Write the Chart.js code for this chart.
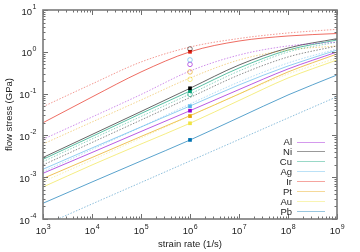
<!DOCTYPE html>
<html><head><meta charset="utf-8">
<script src="https://cdn.jsdelivr.net/npm/chart.js@4/dist/chart.umd.min.js"></script>
<style>html,body{margin:0;padding:0;background:#fff}canvas{display:block}</style>
</head><body>
<canvas id="c" width="360" height="252"></canvas>
<script>
// strain rates (1/s)
const rates = [1e3, 1e4, 1e5, 1e6, 1e7, 1e8, 1e9];
const metals = ['Al', 'Ni', 'Cu', 'Ag', 'Ir', 'Pt', 'Au', 'Pb'];

// flow stress (GPa), solid curves
const solidAl = [0.00124, 0.00390, 0.0124, 0.0390, 0.125, 0.388, 0.989];
const solidNi = [0.00296, 0.0105, 0.0373, 0.134, 0.483, 1.23, 2.06];
const solidCu = [0.00268, 0.00942, 0.0334, 0.115, 0.409, 1.10, 1.92];
const solidAg = [0.00155, 0.00500, 0.0159, 0.0505, 0.161, 0.457, 1.10];
const solidIr = [0.0201, 0.0830, 0.329, 1.00, 1.81, 2.39, 2.74];
const solidPt = [0.000931, 0.00296, 0.00942, 0.0296, 0.0977, 0.329, 0.886];
const solidAu = [0.000583, 0.00196, 0.00622, 0.0195, 0.0684, 0.236, 0.637];
const solidPb = [0.000238, 0.000767, 0.00244, 0.00776, 0.0268, 0.0926, 0.279];

// flow stress (GPa), dotted curves
const dottedAl = [0.00807, 0.0275, 0.0951, 0.347, 0.838, 1.38, 1.71];
const dottedNi = [0.00196, 0.00676, 0.0233, 0.0807, 0.279, 0.751, 1.38];
const dottedCu = [0.00235, 0.00820, 0.0283, 0.0977, 0.347, 0.989, 1.71];
const dottedAg = [0.00135, 0.00460, 0.0159, 0.0564, 0.190, 0.540, 1.17];
const dottedIr = [0.0486, 0.170, 0.570, 1.30, 2.08, 2.82, 3.45];
const dottedPt = [0.00622, 0.0209, 0.0703, 0.236, 0.637, 1.10, 1.38];
const dottedAu = [0.000780, 0.00258, 0.00867, 0.0291, 0.0977, 0.294, 0.711];
const dottedPb = [0.0000695, 0.000229, 0.000747, 0.00244, 0.00798, 0.0261, 0.0843];

// markers at strain rate 1e6
const markerRate = 1e6;
const filledMetals = ['Ir', 'Ni', 'Cu', 'Ag', 'Al', 'Pt', 'Au', 'Pb'];
const filledValues = [1.00, 0.134, 0.115, 0.050, 0.039, 0.029, 0.0195, 0.0078];
const openMetals = ['Ni', 'Ag', 'Al', 'Pt', 'Au', 'Cu'];
const openValues = [1.17, 0.64, 0.50, 0.33, 0.22, 0.096];

// axis ticks (decade exponents)
const xExponents = [3, 4, 5, 6, 7, 8, 9];
const yExponents = [-4, -3, -2, -1, 0, 1];

const rgb = {Al:[148,0,211], Ni:[0,0,0], Cu:[0,158,115], Ag:[86,180,233],
             Ir:[229,30,16], Pt:[230,159,0], Au:[240,228,66], Pb:[0,114,178]};
const col = (m, a) => `rgba(${rgb[m].join(',')},${a})`;

const solids = {Al:solidAl, Ni:solidNi, Cu:solidCu, Ag:solidAg, Ir:solidIr, Pt:solidPt, Au:solidAu, Pb:solidPb};
const dotteds = {Al:dottedAl, Ni:dottedNi, Cu:dottedCu, Ag:dottedAg, Ir:dottedIr, Pt:dottedPt, Au:dottedAu, Pb:dottedPb};
const pts = arr => arr.map((v, i) => ({x: rates[i], y: v}));

const datasets = [];
metals.forEach(m => datasets.push({
  label: m + ' dotted', data: pts(dotteds[m]), borderColor: col(m, 0.45), borderWidth: 1,
  borderDash: [1.5, 1.5], pointRadius: 0, cubicInterpolationMode: 'monotone', fill: false
}));
metals.forEach(m => datasets.push({
  label: m, data: pts(solids[m]), borderColor: col(m, m === 'Ni' ? 0.6 : 0.65), borderWidth: 1,
  pointRadius: 0, cubicInterpolationMode: 'monotone', fill: false
}));
openMetals.forEach((m, i) => datasets.push({
  label: m + ' open', data: [{x: markerRate, y: openValues[i]}], showLine: false,
  pointStyle: 'circle', pointRadius: 2.3, pointBorderWidth: 1,
  pointBorderColor: m === 'Ni' ? 'rgba(0,0,0,0.5)' : col(m, 0.6), pointBackgroundColor: 'rgba(0,0,0,0)'
}));
filledMetals.forEach((m, i) => datasets.push({
  label: m + ' filled', data: [{x: markerRate, y: filledValues[i]}], showLine: false,
  pointStyle: 'rect', pointRadius: 2.6, pointBorderWidth: 0,
  pointBackgroundColor: col(m, 1), pointBorderColor: col(m, 1)
}));

const FONT = '"Liberation Sans", Arial, sans-serif';
const frame = {
  id: 'frame',
  afterDatasetsDraw(chart) {
    const ctx = chart.ctx, a = chart.chartArea, xs = chart.scales.x, ys = chart.scales.y;
    ctx.save();
    ctx.strokeStyle = '#6e6e6e'; ctx.lineWidth = 1;
    ctx.beginPath();
    // x ticks
    for (let e = 3; e <= 9; e++) {
      for (let k = 1; k <= 9; k++) {
        const v = k * Math.pow(10, e);
        if (v > 1e9 || (e === 9 && k > 1)) continue;
        const px = Math.round(xs.getPixelForValue(v)) + 0.5;
        const L = k === 1 ? 5 : 2.5;
        ctx.moveTo(px, a.bottom); ctx.lineTo(px, a.bottom - L);
        ctx.moveTo(px, a.top); ctx.lineTo(px, a.top + L);
      }
    }
    for (let e = -4; e <= 1; e++) {
      for (let k = 1; k <= 9; k++) {
        if (e === 1 && k > 1) continue;
        const v = k * Math.pow(10, e);
        const py = Math.round(ys.getPixelForValue(v)) + 0.5;
        const L = k === 1 ? 5 : 2.5;
        ctx.moveTo(a.left, py); ctx.lineTo(a.left + L, py);
        ctx.moveTo(a.right, py); ctx.lineTo(a.right - L, py);
      }
    }
    ctx.stroke();
    ctx.lineWidth = 1.6; ctx.strokeStyle = '#7a7a7a';
    ctx.strokeRect(a.left, a.top, a.right - a.left, a.bottom - a.top);

    ctx.fillStyle = '#222';
    ctx.textBaseline = 'alphabetic';
    const base = '9.5px ' + FONT, sup = '7px ' + FONT;
    // x tick labels
    xExponents.forEach(e => {
      const px = xs.getPixelForValue(Math.pow(10, e));
      ctx.font = base; const w1 = ctx.measureText('10').width;
      ctx.font = sup; const w2 = ctx.measureText(String(e)).width;
      const x0 = px - (w1 + w2) / 2;
      ctx.textAlign = 'left';
      ctx.font = base; ctx.fillText('10', x0, a.bottom + 15);
      ctx.font = sup; ctx.fillText(String(e).replace('-', '\u2212'), x0 + w1 + 0.5, a.bottom + 9.5);
    });
    // y tick labels
    yExponents.forEach(e => {
      const py = ys.getPixelForValue(Math.pow(10, e));
      const es = String(e).replace('-', '-');
      ctx.font = base; const w1 = ctx.measureText('10').width;
      ctx.font = sup; const w2 = ctx.measureText(es).width;
      const x0 = a.left - 7 - (w1 + w2);
      ctx.textAlign = 'left';
      ctx.font = base; ctx.fillText('10', x0, py + 4.5);
      ctx.font = sup; ctx.fillText(es, x0 + w1 + 0.5, py - 1);
    });
    // axis titles
    ctx.font = '9.5px ' + FONT; ctx.textAlign = 'center';
    ctx.fillText('strain rate (1/s)', (a.left + a.right) / 2, 247);
    ctx.save();
    ctx.translate(12, (a.top + a.bottom) / 2);
    ctx.rotate(-Math.PI / 2);
    ctx.fillText('flow stress (GPa)', 0, 0);
    ctx.restore();
    // legend
    metals.forEach((m, i) => {
      const y = 141.5 + i * 9.95;
      ctx.font = '9.5px ' + FONT; ctx.textAlign = 'right'; ctx.fillStyle = '#222';
      ctx.fillText(m, 292, y + 3.5);
      ctx.strokeStyle = m === 'Ni' ? 'rgba(0,0,0,0.4)' : col(m, 0.4); ctx.lineWidth = 1;
      ctx.beginPath(); ctx.moveTo(297, Math.round(y) + 0.5); ctx.lineTo(325, Math.round(y) + 0.5); ctx.stroke();
    });
    ctx.restore();
  }
};

new Chart(document.getElementById('c'), {
  type: 'line',
  data: {datasets},
  options: {
    responsive: false, animation: false, devicePixelRatio: 1,
    layout: {padding: {left: 43, top: 10, right: 23, bottom: 33}},
    plugins: {legend: {display: false}, tooltip: {enabled: false}},
    scales: {
      x: {type: 'logarithmic', min: 1e3, max: 1e9, display: false},
      y: {type: 'logarithmic', min: 1e-4, max: 10, display: false}
    }
  },
  plugins: [frame]
});
</script>
</body></html>
